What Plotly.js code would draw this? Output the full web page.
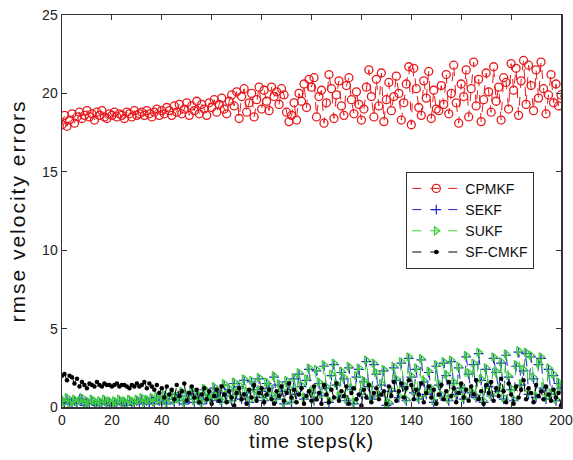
<!DOCTYPE html>
<html>
<head>
<meta charset="utf-8">
<script src="https://cdn.plot.ly/plotly-3.0.1.min.js"></script>
<style>
html,body{margin:0;padding:0;background:#fff;}
#chart{width:573px;height:460px;}
.g-xtitle text{letter-spacing:0.8px;}
.g-ytitle text{letter-spacing:2px;}
</style>
</head>
<body>
<div id="chart"></div>
<script>
// time steps 0..200
const steps = Array.from({length: 201}, (_, i) => i);

const cpmkf = [
 18.0, 18.6, 17.9, 18.3, 18.7, 18.1, 18.5, 18.8, 18.4, 18.6, 18.9,
 18.5, 18.7, 18.3, 18.8, 18.6, 18.9, 18.5, 18.4, 18.7, 18.6,
 18.8, 18.5, 18.7, 18.6, 18.4, 18.8, 18.7, 18.5, 18.9, 18.6,
 18.7, 18.8, 18.6, 18.9, 18.7, 18.5, 18.8, 19.0, 18.6, 18.9,
 18.7, 19.1, 18.9, 18.6, 19.2, 18.8, 19.3, 18.7, 19.0, 19.4,
 18.6, 19.2, 18.9, 19.5, 18.7, 19.3, 19.0, 18.6, 19.4, 19.1,
 19.6, 18.8, 19.3, 19.7, 19.0, 18.7, 19.5, 19.9, 19.2, 20.1,
 18.4, 19.8, 20.3, 18.8, 19.4, 20.0, 18.5, 19.6, 20.4, 19.0,
 20.2, 19.5, 18.9, 20.4, 19.8, 20.1, 19.3, 20.3, 19.9, 18.8,
 18.2, 18.6, 19.4, 18.3, 20.0, 19.5, 20.6, 19.1, 20.9, 20.4,
 21.0, 18.5, 19.8, 20.2, 18.1, 19.4, 21.2, 20.3, 18.4, 19.9,
 20.8, 19.2, 18.6, 20.5, 21.0, 19.6, 18.7, 20.1, 19.3, 18.3,
 19.0, 20.4, 21.5, 19.8, 18.5, 20.9, 19.2, 21.3, 18.2, 19.6,
 20.7, 18.9, 19.8, 21.1, 20.0, 18.3, 19.4, 20.6, 21.7, 18.0,
 21.6, 20.3, 19.1, 18.6, 20.8, 19.7, 21.4, 18.4, 20.2, 19.0,
 18.9, 20.5, 19.3, 21.2, 18.7, 20.0, 21.8, 19.4, 18.1, 20.6,
 19.8, 21.5, 18.5, 20.3, 22.0, 19.2, 20.9, 18.2, 19.6, 21.3,
 20.1, 18.8, 21.7, 19.5, 20.4, 18.3, 21.0, 20.7, 19.0, 21.9,
 20.2, 21.6, 18.6, 20.8, 22.1, 19.3, 21.8, 20.5, 18.9, 21.5,
 19.7, 22.0, 20.3, 18.7, 19.9, 21.2, 19.4, 20.6, 19.2, 19.9
];

const sekf = [
 0.4, 0.2, 0.5, 0.3, 0.3, 0.4, 0.2, 0.5, 0.5, 0.1, 0.3,
 0.2, 0.4, 0.3, 0.1, 0.3, 0.2, 0.4, 0.2, 0.3, 0.1,
 0.3, 0.2, 0.4, 0.2, 0.3, 0.1, 0.4, 0.3, 0.2, 0.4,
 0.3, 0.5, 0.2, 0.4, 0.3, 0.5, 0.2, 0.6, 0.4, 0.3,
 0.7, 0.2, 0.5, 0.8, 0.3, 0.6, 0.4, 0.9, 0.2, 0.7,
 0.5, 1.0, 0.3, 0.8, 0.6, 0.2, 1.1, 0.5, 0.8, 0.4,
 1.2, 0.6, 0.9, 0.3, 1.4, 0.7, 1.1, 0.4, 1.5, 0.8,
 1.3, 0.5, 1.7, 0.9, 0.3, 1.6, 1.1, 0.6, 1.8, 1.0,
 0.4, 1.5, 1.2, 0.7, 1.9, 0.5, 1.4, 1.0, 0.2, 1.6,
 1.1, 0.3, 1.8, 0.8, 2.1, 1.3, 0.5, 1.7, 2.4, 0.9,
 0.4, 2.3, 1.5, 0.7, 2.6, 1.2, 0.3, 2.0, 2.7, 1.4,
 0.6, 2.2, 1.8, 0.4, 2.5, 1.1, 0.2, 1.9, 2.4, 0.8,
 1.6, 2.9, 1.3, 0.5, 2.7, 2.1, 0.7, 1.4, 2.3, 0.1,
 0.2, 1.0, 2.5, 1.7, 0.6, 2.8, 1.3, 0.4, 3.1, 1.9,
 0.9, 2.4, 0.5, 3.0, 1.6, 0.8, 2.2, 1.1, 0.3, 2.6,
 1.4, 0.7, 2.8, 2.0, 0.4, 2.9, 1.5, 0.8, 2.5, 1.2,
 0.5, 3.2, 2.1, 0.9, 2.7, 0.6, 3.4, 1.7, 0.3, 2.4,
 1.3, 0.7, 3.1, 2.2, 1.0, 2.8, 0.5, 3.3, 1.9, 1.1,
 0.4, 2.6, 3.5, 1.4, 2.3, 3.4, 0.8, 3.2, 1.8, 0.6,
 2.7, 3.1, 1.2, 0.5, 2.4, 0.8, 2.0, 0.4, 1.5, 1.2
];

const sukf = [
 0.5, 0.3, 0.6, 0.2, 0.4, 0.5, 0.3, 0.4, 0.6, 0.2, 0.4,
 0.3, 0.5, 0.4, 0.2, 0.4, 0.3, 0.5, 0.3, 0.4, 0.2,
 0.4, 0.3, 0.5, 0.3, 0.4, 0.2, 0.5, 0.4, 0.3, 0.5,
 0.4, 0.6, 0.3, 0.5, 0.4, 0.6, 0.3, 0.7, 0.5, 0.4,
 0.8, 0.3, 0.6, 0.9, 0.4, 0.7, 0.5, 1.0, 0.3, 0.8,
 0.6, 1.1, 0.4, 0.9, 0.7, 0.3, 1.2, 0.6, 0.9, 0.5,
 1.3, 0.7, 1.0, 0.4, 1.5, 0.8, 1.2, 0.5, 1.6, 0.9,
 1.4, 0.6, 1.8, 1.0, 0.4, 1.7, 1.2, 0.7, 1.9, 1.1,
 0.5, 1.6, 1.3, 0.8, 2.0, 0.6, 1.5, 1.1, 0.3, 1.7,
 1.2, 0.4, 1.9, 0.9, 2.2, 1.4, 0.6, 1.8, 2.5, 1.0,
 0.5, 2.4, 1.6, 0.8, 2.7, 1.3, 0.4, 2.1, 2.8, 1.5,
 0.7, 2.3, 1.9, 0.5, 2.6, 1.2, 0.3, 2.0, 2.5, 0.9,
 1.7, 3.0, 1.4, 0.6, 2.8, 2.2, 0.8, 1.5, 2.4, 0.2,
 0.3, 1.1, 2.6, 1.8, 0.7, 2.9, 1.4, 0.5, 3.2, 2.0,
 1.0, 2.5, 0.6, 3.1, 1.7, 0.9, 2.3, 1.2, 0.4, 2.7,
 1.5, 0.8, 2.9, 2.1, 0.5, 3.0, 1.6, 0.9, 2.6, 1.3,
 0.6, 3.3, 2.2, 1.0, 2.8, 0.7, 3.5, 1.8, 0.4, 2.5,
 1.4, 0.8, 3.2, 2.3, 1.1, 2.9, 0.6, 3.4, 2.0, 1.2,
 0.5, 2.7, 3.6, 1.5, 2.4, 3.5, 0.9, 3.3, 1.9, 0.7,
 2.8, 3.2, 1.3, 0.6, 2.5, 0.9, 2.1, 0.5, 1.6, 1.3
];

const sfcmkf = [
 2.0, 2.1, 1.7, 2.0, 1.9, 1.5, 1.8, 1.3, 1.6, 1.4, 1.2,
 1.5, 1.4, 1.3, 1.6, 1.4, 1.3, 1.5, 1.4, 1.4, 1.3,
 1.4, 1.5, 1.3, 1.4, 1.4, 1.3, 1.2, 1.4, 1.3, 1.5,
 1.3, 1.4, 1.6, 1.2, 1.5, 1.3, 1.1, 1.4, 0.9, 1.2,
 0.6, 1.3, 0.8, 1.1, 0.5, 1.4, 0.7, 1.0, 1.5, 0.4,
 0.9, 1.3, 0.6, 1.1, 0.3, 0.8, 1.2, 0.5, 1.0, 0.2,
 0.7, 1.1, 0.4, 1.3, 0.8, 0.3, 1.0, 0.6, 0.1, 0.9,
 1.2, 0.5, 0.8, 0.2, 1.1, 0.6, 1.4, 0.4, 0.9, 1.2,
 0.3, 0.8, 1.1, 0.5, 0.2, 1.0, 0.7, 1.3, 0.4, 0.9,
 1.5, 0.6, 1.1, 0.3, 0.8, 1.2, 0.2, 0.7, 1.0, 0.4,
 1.3, 0.5, 0.9, 0.2, 1.4, 0.8, 0.3, 1.1, 0.6, 1.5,
 0.4, 1.0, 0.7, 1.3, 0.2, 0.9, 1.2, 0.5, 0.8, 0.1,
 1.1, 0.6, 1.4, 0.3, 0.9, 1.2, 0.5, 0.8, 1.0, 0.2,
 1.3, 0.7, 1.6, 0.4, 1.0, 1.5, 0.6, 1.2, 1.7, 1.4,
 0.5, 1.1, 0.8, 1.5, 0.3, 0.9, 1.3, 0.6, 1.1, 0.2,
 0.8, 1.4, 0.5, 1.0, 1.6, 0.7, 1.2, 0.3, 0.9, 1.5,
 0.6, 1.1, 0.4, 1.3, 0.8, 1.7, 0.5, 1.0, 0.2, 1.4,
 0.9, 1.6, 0.4, 1.2, 0.7, 1.8, 1.0, 0.3, 1.5, 0.8,
 0.2, 1.3, 0.6, 1.1, 1.7, 0.5, 1.2, 0.9, 0.3, 1.4,
 0.7, 1.0, 0.5, 1.3, 0.8, 0.4, 1.1, 0.6, 0.9, 0.1
];

const xTicks = [0, 20, 40, 60, 80, 100, 120, 140, 160, 180, 200];
const yTicks = [0, 5, 10, 15, 20, 25];

const fontFam = 'Arial, "Liberation Sans", sans-serif';

const traces = [
  {x: steps, y: cpmkf, name: 'CPMKF', mode: 'lines+markers',
   line: {color: '#e8191c', width: 1, dash: 'dash'},
   marker: {symbol: 'circle-open', size: 8, color: '#e8191c', line: {width: 1.3, color: '#e8191c'}}},
  {x: steps, y: sekf, name: 'SEKF', mode: 'lines+markers',
   line: {color: '#2020d0', width: 1, dash: 'dash'},
   marker: {symbol: 'cross-thin-open', size: 7, color: '#2020d0', line: {width: 1.2, color: '#2020d0'}}},
  {x: steps, y: sukf, name: 'SUKF', mode: 'lines+markers',
   line: {color: '#3ccf3c', width: 1, dash: 'dash'},
   marker: {symbol: 'triangle-right-open', size: 7, color: '#3ccf3c', line: {width: 1.3, color: '#3ccf3c'}}},
  {x: steps, y: sfcmkf, name: 'SF-CMKF', mode: 'lines+markers',
   line: {color: '#000000', width: 1, dash: 'dash'},
   marker: {symbol: 'circle', size: 4.5, color: '#000000'}}
];

const layout = {
  width: 573, height: 460,
  margin: {l: 62, r: 12, t: 15, b: 53},
  paper_bgcolor: '#fff', plot_bgcolor: '#fff',
  font: {family: fontFam, color: '#222', size: 13},
  showlegend: true,
  legend: {
    x: 0.69, y: 0.60, xanchor: 'left', yanchor: 'top',
    bgcolor: '#fff', bordercolor: '#333', borderwidth: 1,
    font: {family: fontFam, size: 14, color: '#111'},
    tracegroupgap: 0, itemwidth: 48
  },
  xaxis: {
    range: [0, 200], tickvals: xTicks, ticktext: xTicks.map(String),
    ticks: 'inside', ticklen: 5, tickcolor: '#333',
    showline: true, linecolor: '#333', linewidth: 1.5, mirror: 'ticks',
    showgrid: false, zeroline: false,
    tickfont: {size: 14, color: '#222'},
    title: {text: 'time steps(k)', font: {size: 20, color: '#111'}, standoff: 6}
  },
  yaxis: {
    range: [0, 25], tickvals: yTicks, ticktext: yTicks.map(String),
    ticks: 'inside', ticklen: 5, tickcolor: '#333',
    showline: true, linecolor: '#333', linewidth: 1.5, mirror: 'ticks',
    showgrid: false, zeroline: false,
    tickfont: {size: 14, color: '#222'},
    title: {text: 'rmse velocity errors', font: {size: 21, color: '#111'}, standoff: 11}
  }
};

Plotly.newPlot('chart', traces, layout, {displayModeBar: false, staticPlot: true});
</script>
</body>
</html>
